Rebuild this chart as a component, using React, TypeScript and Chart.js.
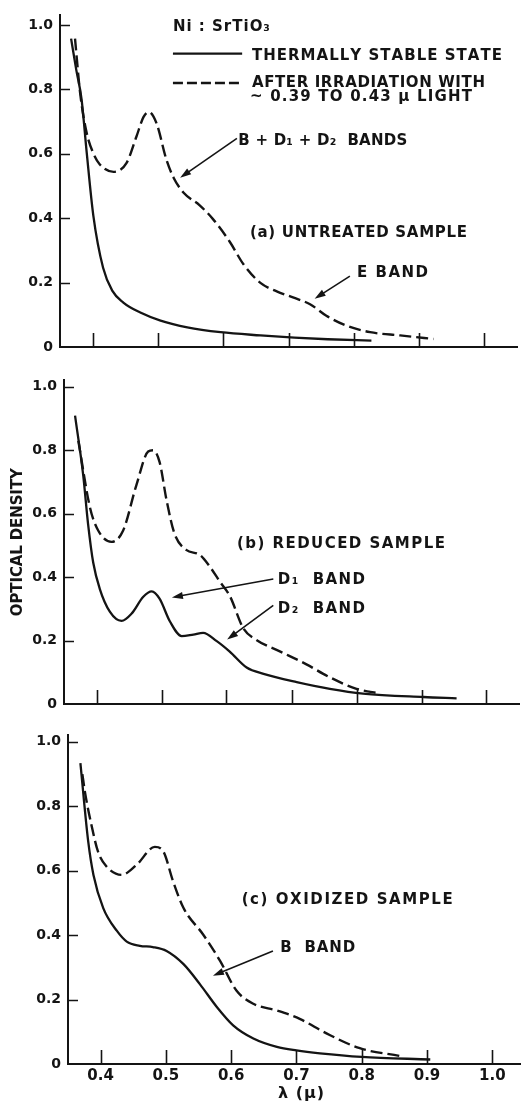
import React, { useEffect, useRef } from "react";
import { Chart, registerables } from "chart.js";
Chart.register(...registerables);

const INK = "#141414";

const X_TICKS = [0.4, 0.5, 0.6, 0.7, 0.8, 0.9, 1.0];
const X_TICK_LABELS = ["0.4", "0.5", "0.6", "0.7", "0.8", "0.9", "1.0"];
const Y_TICKS = [0, 0.2, 0.4, 0.6, 0.8, 1.0];
const Y_TICK_LABELS = ["0", "0.2", "0.4", "0.6", "0.8", "1.0"];

// (a) untreated sample
const A_STABLE_X = [0.367, 0.375, 0.383, 0.391, 0.401, 0.416, 0.43, 0.447, 0.473, 0.504, 0.545, 0.596, 0.657, 0.709, 0.76, 0.827];
const A_STABLE_Y = [0.958, 0.86, 0.77, 0.602, 0.409, 0.246, 0.175, 0.138, 0.107, 0.082, 0.061, 0.046, 0.036, 0.029, 0.024, 0.02];
const A_IRR_X = [0.373, 0.381, 0.391, 0.401, 0.411, 0.432, 0.452, 0.467, 0.478, 0.486, 0.498, 0.513, 0.524, 0.539, 0.564, 0.584, 0.61, 0.631, 0.657, 0.682, 0.708, 0.733, 0.758, 0.789, 0.825, 0.871, 0.922];
const A_IRR_Y = [0.958, 0.786, 0.664, 0.602, 0.567, 0.544, 0.572, 0.653, 0.715, 0.73, 0.694, 0.582, 0.526, 0.48, 0.44, 0.398, 0.327, 0.257, 0.199, 0.173, 0.153, 0.133, 0.097, 0.066, 0.046, 0.036, 0.025];

// (b) reduced sample
const B_STABLE_X = [0.367, 0.3795, 0.387, 0.395, 0.405, 0.4205, 0.4385, 0.454, 0.472, 0.485, 0.497, 0.513, 0.531, 0.549, 0.564, 0.585, 0.605, 0.631, 0.657, 0.708, 0.759, 0.81, 0.903, 0.954];
const B_STABLE_Y = [0.909, 0.722, 0.568, 0.445, 0.363, 0.291, 0.262, 0.285, 0.338, 0.355, 0.332, 0.26, 0.214, 0.219, 0.224, 0.198, 0.165, 0.115, 0.095, 0.069, 0.048, 0.033, 0.022, 0.018];
const B_IRR_X = [0.372, 0.39, 0.4026, 0.423, 0.441, 0.4615, 0.4795, 0.487, 0.497, 0.508, 0.52, 0.538, 0.559, 0.574, 0.59, 0.605, 0.626, 0.646, 0.682, 0.723, 0.759, 0.8, 0.836];
const B_IRR_Y = [0.83, 0.619, 0.547, 0.511, 0.547, 0.691, 0.796, 0.8, 0.763, 0.64, 0.537, 0.486, 0.47, 0.434, 0.385, 0.341, 0.238, 0.202, 0.166, 0.125, 0.084, 0.048, 0.033];

// (c) oxidized sample
const C_STABLE_X = [0.369, 0.381, 0.389, 0.404, 0.425, 0.44, 0.46, 0.48, 0.501, 0.527, 0.552, 0.578, 0.603, 0.634, 0.67, 0.7, 0.736, 0.8, 0.905];
const C_STABLE_Y = [0.934, 0.69, 0.587, 0.484, 0.413, 0.38, 0.367, 0.363, 0.351, 0.31, 0.248, 0.177, 0.12, 0.079, 0.053, 0.042, 0.033, 0.022, 0.014];
const C_IRR_X = [0.372, 0.376, 0.386, 0.396, 0.409, 0.432, 0.455, 0.483, 0.496, 0.511, 0.527, 0.557, 0.583, 0.608, 0.634, 0.67, 0.705, 0.746, 0.797, 0.858];
const C_IRR_Y = [0.9, 0.844, 0.741, 0.659, 0.613, 0.587, 0.618, 0.674, 0.66, 0.567, 0.484, 0.402, 0.32, 0.228, 0.187, 0.166, 0.14, 0.095, 0.049, 0.025];

const FONT = "'DejaVu Sans', 'Noto Sans', sans-serif";
const DASH = [12, 5];

type TextItem = { t: string; x: number; y: number; w: number; size?: number };
type ArrowItem = { x1: number; y1: number; x2: number; y2: number };

type PanelCfg = {
  top: number;
  height: number;
  padding: { top: number; right: number; bottom: number; left: number };
  yWidth: number;
  xHeight: number;
  xMax: number;
  yMax: number;
  showXLabels: boolean;
  stable: [number[], number[]];
  irr: [number[], number[]];
  texts: TextItem[];
  arrows: ArrowItem[];
  legend?: boolean;
  yTitle?: boolean;
  xTitle?: boolean;
};

const PANELS: PanelCfg[] = [
  {
    top: 0,
    height: 365,
    padding: { top: 10, right: 4, bottom: 0, left: 0 },
    yWidth: 60,
    xHeight: 18,
    xMax: 1.05,
    yMax: 1.03,
    showXLabels: false,
    stable: [A_STABLE_X, A_STABLE_Y],
    irr: [A_IRR_X, A_IRR_Y],
    legend: true,
    texts: [
      { t: "Ni : SrTiO\u2083", x: 0.523, y: 0.994, w: 97 },
      { t: "THERMALLY STABLE STATE", x: 0.644, y: 0.905, w: 250 },
      { t: "AFTER IRRADIATION WITH", x: 0.644, y: 0.82, w: 233 },
      { t: "~ 0.39 TO 0.43 \u03bc LIGHT", x: 0.641, y: 0.777, w: 222 },
      { t: "B + D\u2081 + D\u2082  BANDS", x: 0.623, y: 0.639, w: 169 },
      { t: "(a) UNTREATED SAMPLE", x: 0.641, y: 0.355, w: 217 },
      { t: "E BAND", x: 0.805, y: 0.229, w: 71 },
    ],
    arrows: [
      { x1: 0.621, y1: 0.648, x2: 0.534, y2: 0.526 },
      { x1: 0.794, y1: 0.22, x2: 0.74, y2: 0.15 },
    ],
  },
  {
    top: 365,
    height: 355,
    padding: { top: 8, right: 2, bottom: 0, left: 0 },
    yWidth: 64,
    xHeight: 16,
    xMax: 1.05,
    yMax: 1.02,
    showXLabels: false,
    stable: [B_STABLE_X, B_STABLE_Y],
    irr: [B_IRR_X, B_IRR_Y],
    yTitle: true,
    texts: [
      { t: "(b) REDUCED SAMPLE", x: 0.616, y: 0.505, w: 208 },
      { t: "D\u2081  BAND", x: 0.679, y: 0.391, w: 87 },
      { t: "D\u2082  BAND", x: 0.679, y: 0.299, w: 87 },
    ],
    arrows: [
      { x1: 0.672, y1: 0.394, x2: 0.516, y2: 0.336 },
      { x1: 0.672, y1: 0.311, x2: 0.601, y2: 0.203 },
    ],
  },
  {
    top: 720,
    height: 384,
    padding: { top: 13, right: 0, bottom: 0, left: 0 },
    yWidth: 68,
    xHeight: 40,
    xMax: 1.044,
    yMax: 1.02,
    showXLabels: true,
    stable: [C_STABLE_X, C_STABLE_Y],
    irr: [C_IRR_X, C_IRR_Y],
    xTitle: true,
    texts: [
      { t: "(c) OXIDIZED SAMPLE", x: 0.616, y: 0.508, w: 211 },
      { t: "B  BAND", x: 0.675, y: 0.36, w: 75 },
    ],
    arrows: [{ x1: 0.664, y1: 0.351, x2: 0.572, y2: 0.274 }],
  },
];

function drawFitted(ctx: CanvasRenderingContext2D, text: string, x: number, y: number, width: number, size: number, align: "left" | "center" = "left") {
  ctx.font = `bold ${size}px ${FONT}`;
  ctx.textBaseline = "middle";
  ctx.textAlign = "left";
  const chars = Array.from(text);
  const widths = chars.map((c) => ctx.measureText(c).width);
  const natural = widths.reduce((a, b) => a + b, 0);
  const sp = chars.length > 1 ? (width - natural) / (chars.length - 1) : 0;
  let cx = align === "center" ? x - width / 2 : x;
  chars.forEach((c, i) => {
    ctx.fillText(c, cx, y);
    cx += widths[i] + sp;
  });
}

function drawArrow(ctx: CanvasRenderingContext2D, x1: number, y1: number, x2: number, y2: number) {
  const a = Math.atan2(y2 - y1, x2 - x1);
  const L = 11;
  const W = 3.6;
  ctx.lineWidth = 1.6;
  ctx.setLineDash([]);
  ctx.beginPath();
  ctx.moveTo(x1, y1);
  ctx.lineTo(x2 - (L - 2) * Math.cos(a), y2 - (L - 2) * Math.sin(a));
  ctx.stroke();
  ctx.beginPath();
  ctx.moveTo(x2, y2);
  ctx.lineTo(x2 - L * Math.cos(a) + W * Math.sin(a), y2 - L * Math.sin(a) - W * Math.cos(a));
  ctx.lineTo(x2 - L * Math.cos(a) - W * Math.sin(a), y2 - L * Math.sin(a) + W * Math.cos(a));
  ctx.closePath();
  ctx.fill();
}

function makeDecor(p: PanelCfg) {
  return {
    id: "decor",
    afterDraw(chart: any) {
      const ctx: CanvasRenderingContext2D = chart.ctx;
      const xs = chart.scales.x;
      const ys = chart.scales.y;
      const area = chart.chartArea;
      ctx.save();
      ctx.strokeStyle = INK;
      ctx.fillStyle = INK;
      // inward tick marks
      ctx.lineWidth = 1.6;
      ctx.beginPath();
      X_TICKS.forEach((v) => {
        const px = Math.round(xs.getPixelForValue(v)) + 0.5;
        ctx.moveTo(px, area.bottom);
        ctx.lineTo(px, area.bottom - 14);
      });
      Y_TICKS.forEach((v) => {
        if (v === 0) return;
        const py = Math.round(ys.getPixelForValue(v)) + 0.5;
        ctx.moveTo(area.left, py);
        ctx.lineTo(area.left + 10, py);
      });
      ctx.stroke();

      // legend samples
      if (p.legend) {
        ctx.lineWidth = 2.3;
        const lx1 = xs.getPixelForValue(0.523);
        const lx2 = xs.getPixelForValue(0.629);
        ctx.beginPath();
        ctx.moveTo(lx1, ys.getPixelForValue(0.911));
        ctx.lineTo(lx2, ys.getPixelForValue(0.911));
        ctx.stroke();
        ctx.setLineDash([10, 4]);
        ctx.beginPath();
        ctx.moveTo(lx1, ys.getPixelForValue(0.82));
        ctx.lineTo(lx2, ys.getPixelForValue(0.82));
        ctx.stroke();
        ctx.setLineDash([]);
      }

      p.arrows.forEach((a) =>
        drawArrow(ctx, xs.getPixelForValue(a.x1), ys.getPixelForValue(a.y1), xs.getPixelForValue(a.x2), ys.getPixelForValue(a.y2))
      );

      p.texts.forEach((t) => drawFitted(ctx, t.t, xs.getPixelForValue(t.x), ys.getPixelForValue(t.y), t.w, t.size || 15));

      if (p.yTitle) {
        ctx.save();
        ctx.translate(18, ys.getPixelForValue(0.51));
        ctx.rotate(-Math.PI / 2);
        drawFitted(ctx, "OPTICAL DENSITY", 0, 0, 148, 15, "center");
        ctx.restore();
      }
      if (p.xTitle) {
        drawFitted(ctx, "\u03bb (\u03bc)", xs.getPixelForValue(0.707), area.bottom + 30, 46, 16, "center");
      }
      ctx.restore();
    },
  };
}

function zip(xs: number[], ys: number[]) {
  return xs.map((x, i) => ({ x, y: ys[i] }));
}

function Panel({ p }: { p: PanelCfg }) {
  const ref = useRef<HTMLCanvasElement>(null);
  useEffect(() => {
    const chart = new Chart(ref.current as HTMLCanvasElement, {
      type: "scatter",
      data: {
        datasets: [
          {
            data: zip(p.stable[0], p.stable[1]),
            showLine: true,
            borderColor: INK,
            borderWidth: 2.3,
            pointRadius: 0,
            cubicInterpolationMode: "monotone",
            fill: false,
          } as any,
          {
            data: zip(p.irr[0], p.irr[1]),
            showLine: true,
            borderColor: INK,
            borderWidth: 2.4,
            borderDash: DASH,
            pointRadius: 0,
            cubicInterpolationMode: "monotone",
            fill: false,
          } as any,
        ],
      },
      options: {
        animation: false,
        responsive: false,
        events: [],
        layout: { padding: p.padding },
        plugins: { legend: { display: false }, tooltip: { enabled: false }, title: { display: false } },
        scales: {
          x: {
            type: "linear",
            min: 0.35,
            max: p.xMax,
            grid: { display: false, drawTicks: false },
            border: { display: true, color: INK, width: 2 },
            ticks: {
              display: p.showXLabels,
              color: INK,
              padding: 3,
              maxRotation: 0,
              font: { family: FONT, weight: "bold", size: 15 },
              callback: (_v: any, i: number) => X_TICK_LABELS[i],
            },
            afterBuildTicks: (s: any) => {
              s.ticks = X_TICKS.map((v) => ({ value: v }));
            },
            afterFit: (s: any) => {
              s.height = p.xHeight;
            },
          },
          y: {
            type: "linear",
            min: 0,
            max: p.yMax,
            grid: { display: false, drawTicks: false },
            border: { display: true, color: INK, width: 2 },
            ticks: {
              color: INK,
              padding: 7,
              font: { family: FONT, weight: "bold", size: 14 },
              callback: (_v: any, i: number) => Y_TICK_LABELS[i],
            },
            afterBuildTicks: (s: any) => {
              s.ticks = Y_TICKS.map((v) => ({ value: v }));
            },
            afterFit: (s: any) => {
              s.width = p.yWidth;
            },
          },
        },
      } as any,
      plugins: [makeDecor(p)],
    });
    return () => chart.destroy();
  }, []);
  return (
    <canvas
      ref={ref}
      width={521}
      height={p.height}
      style={{ position: "absolute", left: 0, top: p.top, width: 521, height: p.height }}
    />
  );
}

export default function App() {
  return (
    <div style={{ position: "absolute", left: 0, top: 0, width: 521, height: 1104, background: "#fff", overflow: "hidden" }}>
      {PANELS.map((p, i) => (
        <Panel key={i} p={p} />
      ))}
    </div>
  );
}
